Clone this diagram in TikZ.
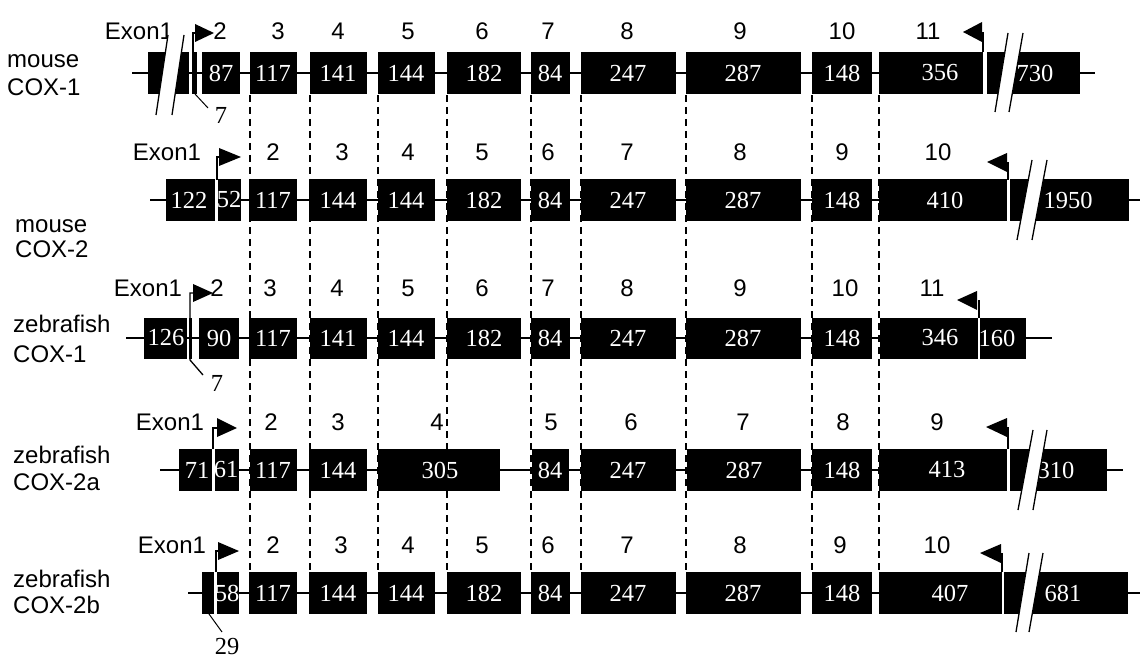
\documentclass[tikz,border=0pt]{standalone}
\usepackage{fontspec}
\setmainfont{Liberation Serif}
\newfontfamily\labfam{Liberation Sans}
\newcommand\labfont{\labfam\fontsize{24}{28}\selectfont}
\newcommand\exnumfont{\rmfamily\fontsize{24.5}{27}\selectfont}
\begin{document}
\begin{tikzpicture}[x=1pt,y=-1pt,
 intron/.style={line width=1.4pt},
 guide/.style={line width=1.2pt, dash pattern=on 7pt off 5pt},
 num/.style={text=white, font=\exnumfont, inner sep=0pt},
 exlab/.style={font=\labfont, anchor=base, inner sep=0pt},
 species/.style={font=\labfont, anchor=base west, inner sep=0pt},
 gapline/.style={white, line width=2.5pt},
 flagline/.style={line width=1.3pt},
 brk/.style={line width=1.3pt},
 small/.style={font=\exnumfont, inner sep=0pt}]
\useasboundingbox (0,0) rectangle (1140,660);

% dashed alignment guides
\foreach \x [count=\i] in {250,310,378,447,531,581,686,812,879}
  \draw[guide] (\x,95) coordinate (gt\i) -- (\x,572) coordinate (gb\i);

% ================= Row 1: mouse COX-1 =================
\draw[intron] (132,73) coordinate (a0) -- (1095,73) coordinate (a1);
\foreach \a/\b in {148/189,192/197,202/240,250/297,310/367,378/435,447/521,531/570,581/676,686/801,812/872,879/1080}
  \fill (\a,52) rectangle (\b,94);
\foreach \x/\t [count=\i] in {221/87,273/117,338/141,406/144,484/182,550/84,628/247,743/287,842/148,940/356,1035/730}
  \node[num] (ra\i) at (\x,73) {\t};
\foreach \x/\t [count=\i] in {139/Exon1,220/2,278/3,338/4,408/5,482/6,548/7,627/8,740/9,842/10,928/11}
  \node[exlab] (la\i) at (\x,40) {\t};
\draw[white, line width=4pt] (985,52) -- (985,94);
% start flag
\draw[flagline] (193,52) -- (193,33) -- (196,33);
\fill (195,24) -- (195,42) -- (214,33) -- cycle;
% stop flag
\draw[flagline] (983,52) -- (983,32);
\fill (982,22) -- (982,42) -- (963,32) -- cycle;
% breaks
\fill[white] (168,35) -- (156,115) -- (172,115) -- (184,35) -- cycle;
\draw[brk] (168,35) -- (156,115) (184,35) -- (172,115);
\fill[white] (1008,33) -- (995,112) -- (1009,112) -- (1023,33) -- cycle;
\draw[brk] (1008,33) -- (995,112) (1023,33) -- (1009,112);
% 7 bp exon
\coordinate (sa) at (195,94);
\node[small] (sevena) at (221,115) {7};
\draw[line width=1pt] (sa) -- (208,108);
\node[species] (spa1) at (7,68) {mouse};
\node[species] (spa2) at (7,96) {COX-1};

% ================= Row 2: mouse COX-2 =================
\draw[intron] (150,200) coordinate (b0) -- (1140,200) coordinate (b1);
\foreach \a/\b in {166/241,249/297,309/367,378/435,447/521,531/570,581/676,686/801,812/872,879/1129}
  \fill (\a,179) rectangle (\b,221);
\foreach \x/\t [count=\i] in {189/122,229/52,273/117,338/144,406/144,484/182,550/84,628/247,743/287,842/148,945/410,1068/1950}
  \node[num] (rb\i) at (\x,200) {\t};
\foreach \x/\t [count=\i] in {167/Exon1,273/2,342/3,408/4,482/5,548/6,627/7,740/8,842/9,938/10}
  \node[exlab] (lb\i) at (\x,161) {\t};
\draw[gapline] (216.5,179) -- (216.5,221);
\draw[gapline] (1008.5,179) -- (1008.5,221);
\draw[flagline] (217,180) -- (217,157) -- (220,157);
\fill (219,148) -- (219,166) -- (241,157) -- cycle;
\draw[flagline] (1008,180) -- (1008,162);
\fill (1007,153) -- (1007,172) -- (987,162) -- cycle;
\fill[white] (1032,160) -- (1017,240) -- (1032,240) -- (1047,160) -- cycle;
\draw[brk] (1032,160) -- (1017,240) (1047,160) -- (1032,240);
\node[species] (spb1) at (15,233) {mouse};
\node[species] (spb2) at (15,258) {COX-2};

% ================= Row 3: zebrafish COX-1 =================
\draw[intron] (126,338) coordinate (c0) -- (1052,338) coordinate (c1);
\foreach \a/\b in {144/187,188.5/191.5,199/239,249/297,310/367,378/435,447/521,531/570,581/676,686/801,812/872,880/1026}
  \fill (\a,318) rectangle (\b,359);
\foreach \x/\t [count=\i] in {166/126,219/90,273/117,338/141,406/144,484/182,550/84,628/247,743/287,842/148,940/346,997/160}
  \node[num] (rc\i) at (\x,338) {\t};
\foreach \x/\t [count=\i] in {148/Exon1,217/2,270/3,337/4,408/5,482/6,548/7,627/8,740/9,845/10,932/11}
  \node[exlab] (lc\i) at (\x,297) {\t};
\draw[gapline] (979,318) -- (979,359);
\draw[flagline] (203,375) -- (190,360) -- (190,293) -- (194,293);
\fill (193,284) -- (193,302) -- (213,293) -- cycle;
\node[small] (sevenc) at (217,383) {7};
\draw[flagline] (979,318) -- (979,300);
\fill (977,291) -- (977,310) -- (957,300) -- cycle;
\node[species] (spc1) at (13,332) {zebrafish};
\node[species] (spc2) at (13,362) {COX-1};

% ================= Row 4: zebrafish COX-2a =================
\draw[intron] (160,470) coordinate (d0) -- (1123,470) coordinate (d1);
\foreach \a/\b in {179/239,250/297,309/367,378/500,532/569,581/676,687/801,812/872,879/1107}
  \fill (\a,449) rectangle (\b,491);
\foreach \x/\t [count=\i] in {197/71,226/61,273/117,338/144,440/305,550/84,628/247,744/287,842/148,947/413,1056/310}
  \node[num] (rd\i) at (\x,470) {\t};
\foreach \x/\t [count=\i] in {170/Exon1,271/2,338/3,437/4,551/5,631/6,743/7,843/8,937/9}
  \node[exlab] (ld\i) at (\x,430) {\t};
\draw[gapline] (213.5,449) -- (213.5,491);
\draw[gapline] (1008.5,449) -- (1008.5,491);
\draw[flagline] (213,449) -- (213,428) -- (218,428);
\fill (217,418) -- (217,437) -- (237,428) -- cycle;
\draw[flagline] (1008,449) -- (1008,427);
\fill (1007,418) -- (1007,437) -- (986,427) -- cycle;
\fill[white] (1033,430) -- (1018,510) -- (1033,510) -- (1047,430) -- cycle;
\draw[brk] (1033,430) -- (1018,510) (1047,430) -- (1033,510);
\node[species] (spd1) at (13,463) {zebrafish};
\node[species] (spd2) at (13,490) {COX-2a};

% ================= Row 5: zebrafish COX-2b =================
\draw[intron] (188,593) coordinate (e0) -- (1140,593) coordinate (e1);
\foreach \a/\b in {202/239,249/297,309/367,378/435,447/521,531/570,581/676,686/801,812/872,879/1128}
  \fill (\a,572) rectangle (\b,614);
\foreach \x/\t [count=\i] in {227/58,273/117,338/144,406/144,484/182,550/84,628/247,743/287,842/148,950/407,1063/681}
  \node[num] (re\i) at (\x,593) {\t};
\foreach \x/\t [count=\i] in {172/Exon1,273/2,341/3,408/4,482/5,548/6,627/7,740/8,840/9,937/10}
  \node[exlab] (le\i) at (\x,553) {\t};
\draw[gapline] (215.5,572) -- (215.5,614);
\draw[gapline] (1003,572) -- (1003,614);
\draw[flagline] (216,572) -- (216,551) -- (219,551);
\fill (218,542) -- (218,560) -- (239,551) -- cycle;
\draw[flagline] (1002,572) -- (1002,553);
\fill (1001,544) -- (1001,563) -- (980,553) -- cycle;
\fill[white] (1029,553) -- (1016,632) -- (1029,632) -- (1043,553) -- cycle;
\draw[brk] (1029,553) -- (1016,632) (1043,553) -- (1029,632);
\coordinate (se) at (209,614);
\node[small] (twentynine) at (227,647) {29};
\draw[line width=1pt] (se) -- (222,632);
\node[species] (spe1) at (13,587) {zebrafish};
\node[species] (spe2) at (13,613) {COX-2b};
\end{tikzpicture}
\end{document}
